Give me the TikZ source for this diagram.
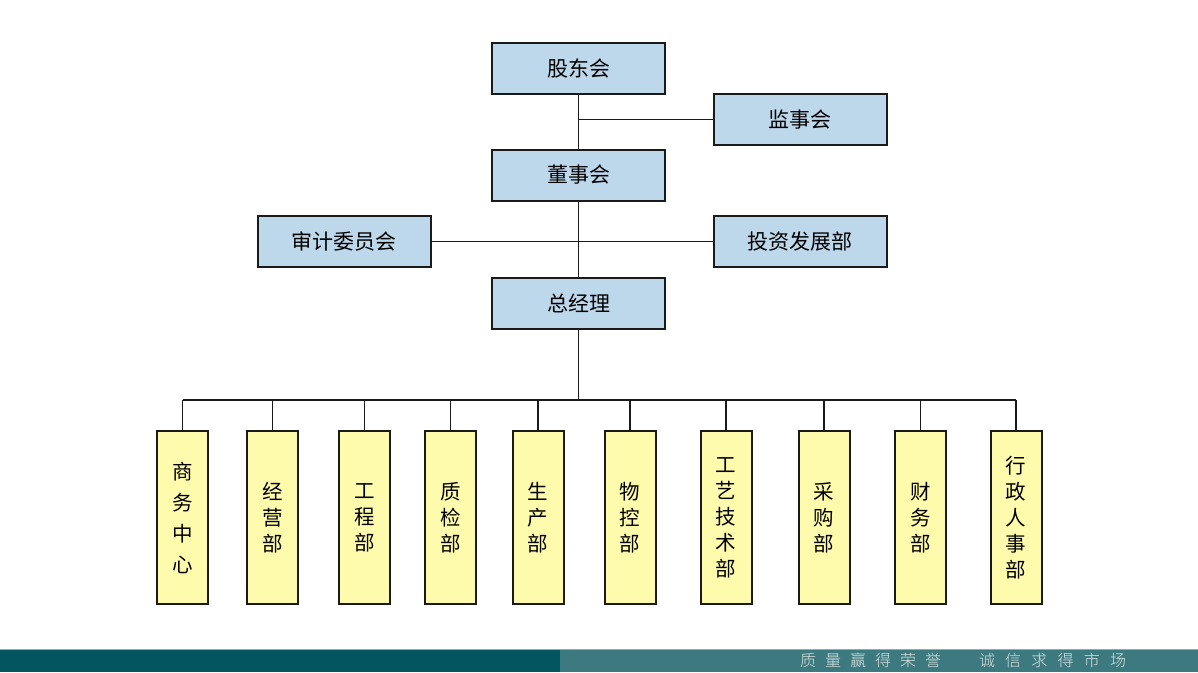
\documentclass[tikz,border=0pt]{standalone}
\usepackage{fontspec}
\newfontfamily\cjk{Noto Sans CJK SC}
\newfontfamily\cjklight{Noto Sans CJK SC Light}
\definecolor{boxblue}{HTML}{BDD7EB}
\definecolor{boxyellow}{HTML}{FFFBAC}
\definecolor{edge}{HTML}{1A1A1A}
\definecolor{barDark}{HTML}{03555F}
\definecolor{barLight}{HTML}{3C7A80}
\definecolor{barText}{HTML}{DCE4E4}
\begin{document}
\begin{tikzpicture}[x=1pt,y=-1pt,
  topbox/.style={draw=edge, line width=2pt, fill=boxblue, minimum width=173pt,
    minimum height=51pt, inner sep=0pt, font=\cjk\fontsize{21}{24}\selectfont},
  deptbox/.style={draw=edge, line width=2pt, fill=boxyellow, minimum width=51pt,
    minimum height=173pt, inner sep=0pt, align=center, text width=30pt,
    font=\cjk\fontsize{20.5}{26}\selectfont},
  link/.style={draw=edge, line width=1.9pt},
  motto/.style={text=barText, inner sep=0pt, font=\cjklight\fontsize{16}{16}\selectfont}]
\useasboundingbox (0,0) rectangle (1198,672);
\fill[white] (0,0) rectangle (1198,672);

% governance boxes
\node[topbox] (sh)     at (578.5,68.5)  {股东会};
\node[topbox] (sup)    at (800,119.5)   {监事会};
\node[topbox] (bd)     at (578.5,175)   {董事会};
\node[topbox] (audit)  at (344,241.5)   {审计委员会};
\node[topbox] (invest) at (800,241.5)   {投资发展部};
\node[topbox] (gm)     at (578.5,303)   {总经理};

% departments
\node[deptbox, font=\cjk\fontsize{20.5}{31}\selectfont] (d1) at (182.5,517.5) {商\\务\\中\\心};
\node[deptbox] (d2)  at (272.5,517.5) {经\\营\\部};
\node[deptbox] (d3)  at (364.5,517.5) {工\\程\\部};
\node[deptbox] (d4)  at (450.5,517.5) {质\\检\\部};
\node[deptbox] (d5)  at (538,517.5)   {生\\产\\部};
\node[deptbox] (d6)  at (630,517.5)   {物\\控\\部};
\node[deptbox] (d7)  at (726,517.5)   {工\\艺\\技\\术\\部};
\node[deptbox] (d8)  at (824,517.5)   {采\\购\\部};
\node[deptbox] (d9)  at (920.5,517.5) {财\\务\\部};
\node[deptbox] (d10) at (1016,517.5)  {行\\政\\人\\事\\部};

\coordinate (bus) at (578.5,400);

% connectors
\draw[link] (sh.south) -- (bd.north);
\draw[link] (sh.south |- sup.west) -- (sup.west);
\draw[link] (bd.south) -- (gm.north);
\draw[link] (audit.east) -- (invest.west);
\draw[link] (gm.south) -- (bus);
\draw[link] (d1.north |- bus) -- (d10.north |- bus);
\foreach \d in {d1,d2,d3,d4,d5,d6,d7,d8,d9,d10}
  \draw[link] (\d.north) -- (\d.north |- bus);

% footer band
\fill[barDark] (0,649) rectangle (560,672);
\fill[barLight] (560,649) rectangle (1198,672);
\draw[color=barLight!60!white, line width=0.8pt] (0,649.4) -- (1198,649.4);

\foreach \c [count=\i from 0] in {质,量,赢,得,荣,誉}
  \node[motto] (ma\i) at (808+25*\i,660.5) {\c};
\foreach \c [count=\i from 0] in {诚,信,求,得,市,场}
  \node[motto] (mb\i) at (987+26.2*\i,660.5) {\c};
\end{tikzpicture}
\end{document}
